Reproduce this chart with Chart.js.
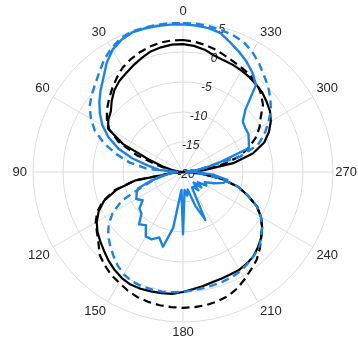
<!DOCTYPE html>
<html><head><meta charset="utf-8">
<script src="https://cdn.jsdelivr.net/npm/chart.js@4/dist/chart.umd.min.js"></script>
<style>html,body{margin:0;padding:0;background:#fff}#wrap{width:358px;height:344px}</style>
</head><body><div id="wrap"><canvas id="c" width="358" height="344"></canvas></div>
<script>
const angles = [0,5,10,15,20,25,30,35,40,45,50,55,60,65,70,75,80,85,90,95,100,105,110,115,120,125,130,135,140,145,150,155,160,165,170,175,180,185,190,195,200,205,210,215,220,225,230,235,240,245,250,255,260,265,270,275,280,285,290,295,300,305,310,315,320,325,330,335,340,345,350,355];
const blackSolid = [1.3,1.3,1.1,0.8,0.2,-0.4,-1.0,-1.5,-2.2,-3.2,-4.3,-4.8,-5.6,-9.0,-14.0,-16.6,-18.2,-19.3,-20,-18.5,-12,-8.5,-6.0,-4.5,-3.4,-2.6,-2.0,-1.4,-0.7,-0.1,0.4,0.7,0.7,0.6,0.5,0.4,0.0,-0.4,-0.7,-1.0,-1.1,-1.2,-1.2,-1.4,-1.7,-2.3,-3.0,-3.9,-5.0,-6.4,-8.5,-10.5,-13.5,-17,-20,-16.5,-11.5,-7.9,-5.6,-4.2,-3.1,-2.3,-1.8,-1.3,-1.0,-0.7,-0.5,-0.3,-0.2,0.1,0.7,1.1];
const blackDashed = [2.0,2.0,1.9,1.6,1.2,0.7,0.1,-0.8,-1.7,-2.6,-3.5,-4.5,-5.8,-8.2,-11.8,-15.5,-17.5,-18.7,-20,-18,-11.8,-8.2,-5.8,-4.2,-3.2,-2.5,-1.6,-0.4,0.3,0.9,1.3,1.8,2.2,2.4,2.55,2.6,2.65,2.6,2.5,2.3,2.0,1.4,0.6,-0.2,-0.9,-1.9,-3.0,-3.9,-5.0,-6.4,-8.5,-10.5,-13.5,-17,-20,-17,-13.8,-10.5,-8.4,-6.7,-5.3,-4.2,-2.6,-1.6,-0.8,-0.4,-0.1,0.2,0.6,1.1,1.5,1.8];
const blueDashed = [4.8,4.9,4.9,4.9,4.9,4.6,3.8,2.9,1.7,0.7,-0.1,-1.0,-2.3,-3.8,-6.0,-8.5,-11.0,-14.0,-19,-18,-16.5,-15,-12.8,-8.8,-6.5,-4.9,-3.7,-2.8,-1.9,-1.0,-0.3,0.1,0.25,0.25,0.25,0.1,0.0,-0.2,-0.35,-0.5,-0.55,-0.7,-0.9,-1.3,-1.7,-2.1,-3.0,-3.9,-5.0,-6.4,-8.5,-10.5,-13.5,-17,-20,-19.5,-17.0,-10.2,-6.7,-5.0,-3.6,-2.1,-1.0,0.1,1.0,2.1,3.1,3.9,4.3,4.5,4.7,4.8];
const blueSolid = [4.6,4.65,4.7,4.75,4.75,4.3,3.5,2.2,0.6,-0.6,-1.8,-3.1,-4.5,-6.3,-8.5,-11.3,-14.2,-16,-19,-18,-17,-14.5,-12,-11.5,-11.0,-11.8,-10.5,-10.2,-8.6,-9.2,-7.6,-7.6,-8.4,-7.1,-10.5,-17,-9.6,-17,-16,-17,-14,-11.2,-17,-17,-16,-17.5,-16,-17,-15.5,-16,-14.5,-13,-12.5,-15,-18,-18.5,-16.5,-13.5,-8.3,-7.9,-7.4,-7.3,-7.0,-5.3,-1.1,0.2,1.2,2.1,3.0,4.0,4.35,4.5];
const radialTicks = [-20,-15,-10,-5,0,5];
const angleStep = 30;

const n = angles.length;
// radar goes clockwise from top; reference angles increase counter-clockwise
const order = angles.map((_, i) => (n - i) % n);
const labels = order.map(j => angles[j]);
const reorder = arr => order.map(j => arr[j]);

const rTickLabels = {
  id: 'rTickLabels',
  beforeDatasetsDraw(chart) {
    const s = chart.scales.r, ctx = chart.ctx;
    ctx.save();
    ctx.font = 'italic 12px "Liberation Sans", Arial, sans-serif';
    ctx.fillStyle = '#262626';
    ctx.textAlign = 'center'; ctx.textBaseline = 'middle';
    const a = 15 * Math.PI / 180;
    radialTicks.forEach(v => {
      const d = s.getDistanceFromCenterForValue(v);
      ctx.fillText(String(v), s.xCenter + d * Math.sin(a) + (d === 0 ? 3 : 0), s.yCenter - d * Math.cos(a) + 3);
    });
    ctx.restore();
  }
};

const BLUE = '#1a83e6';
new Chart(document.getElementById('c'), {
  type: 'radar',
  data: {
    labels,
    datasets: [
      {data: reorder(blueSolid), borderColor: BLUE, borderWidth: 2.4},
      {data: reorder(blueDashed), borderColor: BLUE, borderWidth: 2.4, borderDash: [8, 5]},
      {data: reorder(blackDashed), borderColor: '#000', borderWidth: 2.2, borderDash: [8, 5]},
      {data: reorder(blackSolid), borderColor: '#000', borderWidth: 2.2}
    ].map(d => Object.assign(d, {fill: false, pointRadius: 0, tension: 0, borderJoinStyle: 'round'}))
  },
  options: {
    responsive: false, animation: false,
    layout: {padding: {left: 11.6, right: 0, top: 0, bottom: 0}},
    plugins: {legend: {display: false}, tooltip: {enabled: false}},
    scales: {
      r: {
        min: radialTicks[0], max: radialTicks[radialTicks.length - 1],
        ticks: {stepSize: 5, display: false},
        grid: {circular: true, color: '#dcdcdc', lineWidth: 1},
        angleLines: {color: c => (c.index % (angleStep / 5) === 0 ? '#dcdcdc' : 'rgba(0,0,0,0)'), lineWidth: 1},
        pointLabels: {
          callback: l => (l % angleStep === 0 ? String(l) : ''),
          color: '#262626',
          padding: c => (c.label === '270' ? 2.3 : c.label === '90' ? 6 : 4),
          font: {family: '"Liberation Sans", Arial, sans-serif', size: 13, lineHeight: 1.0}
        }
      }
    }
  },
  plugins: [rTickLabels]
});
</script></body></html>
